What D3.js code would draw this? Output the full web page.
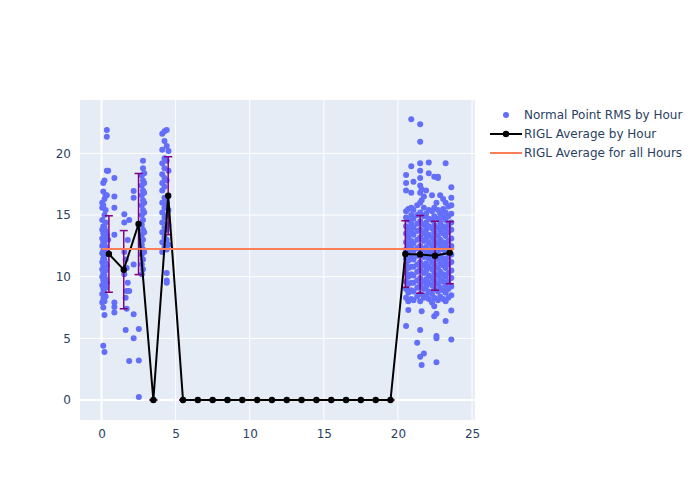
<!DOCTYPE html>
<html><head><meta charset="utf-8">
<script src="https://cdn.jsdelivr.net/npm/d3@7"></script>
<style>body{margin:0;background:#fff;} svg{display:block;}</style>
</head><body>
<svg id="chart" width="700" height="500"></svg>
<script>
// ---- DATA ----
// Normal point RMS samples: [hour of day, [RMS values...]]
const scatterColumns = [
  [0.05, [7.9, 8.6, 9.3, 10.0, 10.6, 11.2, 11.9, 12.5, 13.1, 13.8, 14.6, 15.6, 16.0]],
  [0.12, [4.4, 7.5, 8.2, 9.0, 9.7, 10.3, 10.9, 11.5, 12.1, 12.8, 13.5, 14.1, 15.8, 16.9, 17.6]],
  [0.2,  [3.9, 6.9, 8.0, 8.7, 9.4, 10.1, 10.8, 11.4, 12.0, 12.6, 13.3, 14.0, 15.0, 16.3, 17.8]],
  [0.28, [8.4, 9.1, 9.8, 10.5, 11.1, 11.8, 12.4, 13.0, 13.7, 14.4, 15.4, 16.6]],
  [0.36, [9.5, 10.9, 12.2, 13.4, 16.6, 18.6, 21.35, 21.9]],
  [0.45, [18.6, 13.0]],
  [0.87, [18.0, 16.5, 15.6, 13.4, 7.9, 7.55, 7.1]],
  [1.54, [15.06, 14.4, 12.0, 10.2]],
  [1.63, [5.68, 8.3, 11.4]],
  [1.7,  [10.7, 8.84, 7.4]],
  [1.77, [12.97, 9.5]],
  [1.87, [14.6, 8.84, 3.16]],
  [2.17, [16.95, 16.4, 11.0, 6.95, 5.0]],
  [2.52, [5.76, 3.2, 0.24]],
  [2.72, [10.2, 11.0, 11.8, 12.6, 13.4, 14.2, 15.0, 15.8, 16.6, 17.4, 18.2]],
  [2.8,  [10.6, 11.4, 12.2, 13.0, 13.8, 14.6, 15.4, 16.2, 17.0, 17.8, 18.8, 19.4]],
  [2.88, [12.0, 13.6, 15.2, 16.0, 16.8, 17.6, 18.4]],
  [4.1,  [12.0, 12.8, 13.6, 14.4, 15.2, 16.0, 17.0, 17.6, 18.3, 19.2, 20.3, 21.6]],
  [4.25, [12.4, 13.2, 14.0, 14.8, 15.6, 16.4, 17.3, 18.0, 18.8, 19.6, 21.0, 21.8]],
  [4.4,  [12.2, 13.0, 13.8, 15.0, 16.0, 17.8, 19.4, 20.6, 21.9, 10.3, 9.7, 9.5]],
  [4.52, [12.6, 14.2, 15.4, 18.6, 20.2]],
  [20.55,[8.3, 9.0, 9.6, 10.3, 10.9, 11.5, 12.2, 12.8, 13.5, 14.1, 14.8, 15.3, 18.25, 17.6, 17.0, 6.0]],
  [20.7, [8.0, 8.7, 9.4, 10.0, 10.7, 11.3, 12.0, 12.6, 13.2, 13.9, 14.6, 15.5, 7.3]],
  [20.9, [8.2, 8.9, 9.5, 10.2, 10.8, 11.6, 12.3, 12.9, 13.6, 14.3, 15.0, 15.6, 22.76, 18.95, 16.8]],
  [21.05,[8.1, 8.8, 9.5, 10.1, 10.8, 11.4, 12.1, 12.7, 13.4, 14.0, 14.7, 15.4, 17.7]],
  [21.3, [8.4, 9.1, 9.7, 10.4, 11.0, 11.7, 12.3, 13.0, 13.7, 14.3, 15.0, 15.8, 4.65]],
  [21.5, [8.0, 8.6, 9.3, 9.9, 10.6, 11.2, 11.9, 12.5, 13.2, 13.8, 14.5, 15.2, 16.0, 16.8, 17.4, 18.0, 18.6, 19.2, 20.95, 22.36, 5.68, 3.5]],
  [21.6, [7.2, 16.2, 17.1, 2.84]],
  [21.75,[8.3, 9.0, 9.6, 10.3, 10.9, 11.6, 12.2, 12.9, 13.5, 14.2, 14.9, 15.6, 16.5, 3.78]],
  [21.9, [8.5, 9.2, 9.8, 10.5, 11.1, 11.8, 12.4, 13.1, 13.8, 14.4, 15.1, 17.0]],
  [22.08,[8.2, 8.8, 9.5, 10.1, 10.8, 11.5, 12.1, 12.8, 13.4, 14.1, 14.7, 15.4, 19.27, 18.4]],
  [22.3, [7.9, 8.6, 9.3, 9.9, 10.6, 11.2, 11.9, 12.5, 13.2, 13.9, 14.6, 15.3, 16.6]],
  [22.45,[7.6, 8.3, 9.0, 9.7, 10.3, 11.0, 11.6, 12.3, 12.9, 13.6, 14.2, 14.9, 15.6, 18.1, 6.8]],
  [22.6, [7.0, 5.2, 5.0, 3.06, 16.0]],
  [22.7, [8.1, 8.8, 9.4, 10.1, 10.7, 11.4, 12.0, 12.7, 13.3, 14.0, 14.7, 15.4, 18.1, 18.0]],
  [22.85,[8.4, 9.1, 9.8, 10.4, 11.1, 11.7, 12.4, 13.0, 13.7, 14.4, 15.1, 16.6]],
  [23.05,[8.2, 8.9, 9.6, 10.2, 10.9, 11.5, 12.2, 12.8, 13.5, 14.1, 14.8, 15.5, 16.3]],
  [23.22,[8.0, 8.7, 9.3, 10.0, 10.7, 11.3, 12.0, 12.6, 13.3, 13.9, 14.6, 15.2, 16.0, 19.2, 6.4]],
  [23.4, [8.3, 9.0, 9.6, 10.3, 11.0, 11.6, 12.3, 12.9, 13.6, 14.2, 14.9, 15.7]],
  [23.6, [8.5, 9.2, 9.9, 10.5, 11.2, 11.8, 12.5, 13.1, 13.8, 14.4, 15.1, 15.8, 16.4, 17.25, 7.25, 4.9]]
];

const avgHours = [0.5,1.5,2.5,3.5,4.5,5.5,6.5,7.5,8.5,9.5,10.5,11.5,12.5,13.5,14.5,15.5,16.5,17.5,18.5,19.5,20.5,21.5,22.5,23.5];
const avgRMS   = [11.84,10.57,14.27,0,16.57,0,0,0,0,0,0,0,0,0,0,0,0,0,0,0,11.84,11.81,11.70,11.95];
const avgStd   = [3.1,3.17,4.1,0,3.16,0,0,0,0,0,0,0,0,0,0,0,0,0,0,0,2.7,3.15,2.8,2.52];
const overallAverage = 12.24;

const xTicks = [0,5,10,15,20,25];
const yTicks = [0,5,10,15,20];
const legendLabels = ["Normal Point RMS by Hour","RIGL Average by Hour","RIGL Average for all Hours"];

// ---- CHART ----
const svg = d3.select("#chart");
const L = 80, R = 475, T = 100, B = 420;
const x = d3.scaleLinear().domain([-1.45, 25.2]).range([L, R]);
const y = d3.scaleLinear().domain([-1.62, 24.33]).range([B, T]);
const font = "'DejaVu Sans', sans-serif";
const textColor = "#2a3f5f";

svg.append("rect").attr("x", L).attr("y", T).attr("width", R - L).attr("height", B - T).attr("fill", "#e5ecf6");

const grid = svg.append("g");
xTicks.forEach(t => {
  grid.append("line").attr("x1", x(t)).attr("x2", x(t)).attr("y1", T).attr("y2", B)
    .attr("stroke", "#fff").attr("stroke-width", t === 0 ? 2 : 1);
});
yTicks.forEach(t => {
  grid.append("line").attr("x1", L).attr("x2", R).attr("y1", y(t)).attr("y2", y(t))
    .attr("stroke", "#fff").attr("stroke-width", t === 0 ? 2 : 1);
});

const xAxis = svg.append("g").attr("transform", `translate(0,${B})`)
  .call(d3.axisBottom(x).tickValues(xTicks).tickSize(0).tickPadding(9));
const yAxis = svg.append("g").attr("transform", `translate(${L},0)`)
  .call(d3.axisLeft(y).tickValues(yTicks).tickSize(0).tickPadding(9));
[xAxis, yAxis].forEach(a => {
  a.select(".domain").remove();
  a.selectAll("text").attr("fill", textColor).style("font-family", font).style("font-size", "12px");
});

// scatter
const pts = [];
scatterColumns.forEach(([h, vals]) => vals.forEach(v => pts.push([h, v])));
svg.append("g").selectAll("circle").data(pts).enter().append("circle")
  .attr("cx", d => x(d[0])).attr("cy", d => y(d[1])).attr("r", 3)
  .attr("fill", "#636efa");

// error bars
const eb = svg.append("g");
avgHours.forEach((h, i) => {
  const lo = y(avgRMS[i] - avgStd[i]), hi = y(avgRMS[i] + avgStd[i]), cx = x(h);
  eb.append("line").attr("x1", cx).attr("x2", cx).attr("y1", lo).attr("y2", hi)
    .attr("stroke", "#800080").attr("stroke-width", 1.5);
  [lo, hi].forEach(yy => eb.append("line").attr("x1", cx - 4).attr("x2", cx + 4)
    .attr("y1", yy).attr("y2", yy).attr("stroke", "#800080").attr("stroke-width", 1.5));
});

// average line
const avgData = avgHours.map((h, i) => [h, avgRMS[i]]);
svg.append("path").datum(avgData)
  .attr("d", d3.line().x(d => x(d[0])).y(d => y(d[1])))
  .attr("fill", "none").attr("stroke", "#000").attr("stroke-width", 2);
svg.append("g").selectAll("circle").data(avgData).enter().append("circle")
  .attr("cx", d => x(d[0])).attr("cy", d => y(d[1])).attr("r", 3.2).attr("fill", "#000");

// overall average
svg.append("line").attr("x1", x(0)).attr("x2", x(23.8))
  .attr("y1", y(overallAverage)).attr("y2", y(overallAverage))
  .attr("stroke", "#fa7f58").attr("stroke-width", 2);

// legend
const lg = svg.append("g");
const ly = [115, 134, 153];
lg.append("circle").attr("cx", 506).attr("cy", ly[0]).attr("r", 3).attr("fill", "#636efa");
lg.append("line").attr("x1", 490).attr("x2", 522).attr("y1", ly[1]).attr("y2", ly[1]).attr("stroke", "#000").attr("stroke-width", 2);
lg.append("circle").attr("cx", 506).attr("cy", ly[1]).attr("r", 3.2).attr("fill", "#000");
lg.append("line").attr("x1", 490).attr("x2", 522).attr("y1", ly[2]).attr("y2", ly[2]).attr("stroke", "#fa7f58").attr("stroke-width", 2);
legendLabels.forEach((t, i) => {
  lg.append("text").attr("x", 524).attr("y", ly[i]).attr("dy", "0.35em")
    .attr("fill", textColor).style("font-family", font).style("font-size", "12px").text(t);
});
</script>
</body></html>
